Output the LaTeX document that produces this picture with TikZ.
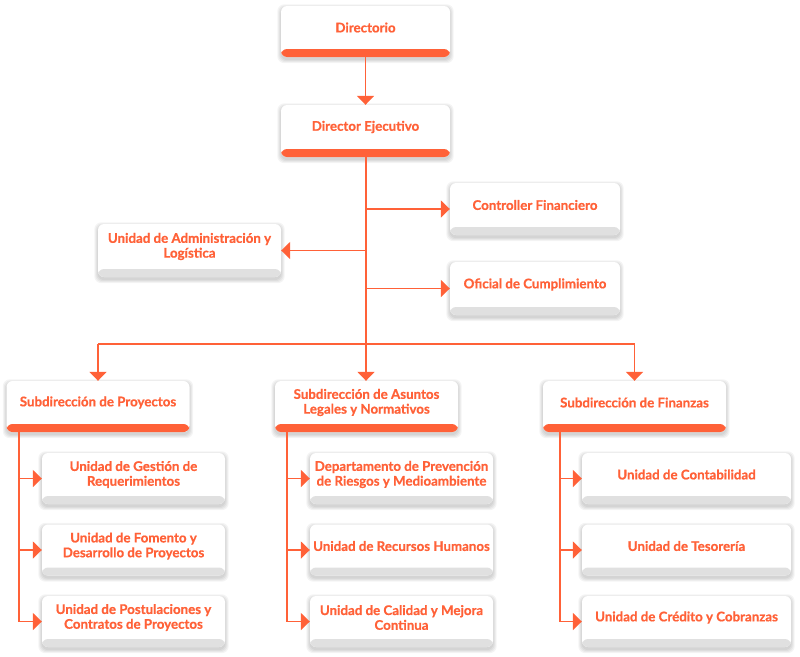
\documentclass[tikz,border=0pt]{standalone}
\usepackage{fontspec}
\setmainfont{Lato}[BoldFeatures={FakeBold=0.7}]
\usetikzlibrary{arrows.meta,calc}
\pgfdeclarelayer{bg}
\pgfsetlayers{bg,main}
\definecolor{org}{HTML}{FF6138}
\definecolor{band}{HTML}{E0E0E0}
\tikzset{
  basebox/.style={rectangle, rounded corners=6pt, fill=white, inner sep=0pt},
  hdr/.style={basebox, path picture={\fill[org] (path picture bounding box.south west) rectangle ([yshift=8pt]path picture bounding box.south east);}},
  sub/.style={basebox, path picture={\fill[band] (path picture bounding box.south west) rectangle ([yshift=8pt]path picture bounding box.south east);}},
  txt/.style={text=org, font=\bfseries\fontsize{13.3}{14.8}\selectfont, align=center, inner sep=0pt},
  shd/.style={fill=black, opacity=0.045, rounded corners=7pt},
  con/.style={draw=org, line width=1.6pt},
  arr/.style={con, -{Triangle[width=17pt,length=9pt]}},
}
\newcommand\obox[7]{%
  \node[#2, minimum width=#5pt, minimum height=#6pt] (#1) at (#3,#4) {};
  \node[txt] (#1t) at ([yshift=4pt]#1.center) {#7};
  \begin{pgfonlayer}{bg}
    \foreach \k in {0.5,1.5,2.5,3.5}{
      \fill[shd] ([xshift=-\k pt, yshift=\k pt-2pt]#1.north west) rectangle ([xshift=\k pt, yshift=-\k pt-2.5pt]#1.south east);
    }
  \end{pgfonlayer}
}
\begin{document}
\begin{tikzpicture}[x=1pt,y=-1pt]
\begin{pgfonlayer}{bg}
\fill[white] (0,0) rectangle (800,656);
\end{pgfonlayer}
\useasboundingbox (0,0) rectangle (800,656);
% boxes
\obox{dir}{hdr}{365.5}{31.5}{169}{51}{Directorio}
\obox{de}{hdr}{365.5}{131}{169}{52}{Director Ejecutivo}
\obox{cf}{sub}{535}{209}{170}{52}{Controller Financiero}
\obox{ua}{sub}{189.5}{250.5}{183}{53}{Unidad de Administración y\\Logística}
\obox{oc}{sub}{535}{288.5}{170}{53}{Oficial de Cumplimiento}
\obox{sp}{hdr}{98}{406.5}{183}{51}{Subdirección de Proyectos}
\obox{sa}{hdr}{366.5}{406.5}{183}{51}{Subdirección de Asuntos\\Legales y Normativos}
\obox{sf}{hdr}{634.5}{406.5}{183}{51}{Subdirección de Finanzas}
\obox{p1}{sub}{133.5}{478.5}{183}{51}{Unidad de Gestión de\\Requerimientos}
\obox{p2}{sub}{133.5}{550}{183}{51}{Unidad de Fomento y\\Desarrollo de Proyectos}
\obox{p3}{sub}{133.5}{621.5}{183}{51}{Unidad de Postulaciones y\\Contratos de Proyectos}
\obox{a1}{sub}{401.5}{478.5}{183}{51}{Departamento de Prevención\\de Riesgos y Medioambiente}
\obox{a2}{sub}{401.5}{550}{183}{51}{Unidad de Recursos Humanos}
\obox{a3}{sub}{401.5}{621.5}{183}{51}{Unidad de Calidad y Mejora\\Continua}
\obox{f1}{sub}{686.5}{478.5}{209}{51}{Unidad de Contabilidad}
\obox{f2}{sub}{686.5}{550}{209}{51}{Unidad de Tesorería}
\obox{f3}{sub}{686.5}{621.5}{209}{51}{Unidad de Crédito y Cobranzas}
% junctions
\coordinate (jm) at (366,344);
\coordinate (jl) at (98,344);
\coordinate (jr) at (634.5,344);
% connectors
\draw[arr] (dir.south) -- (de.north);
\draw[con] (de.south -| jm) -- (jm);
\draw[arr] (cf.west -| jm) -- (cf.west);
\draw[arr] (ua.east -| jm) -- (ua.east);
\draw[arr] (oc.west -| jm) -- (oc.west);
\draw[con] (jl) -- (jr);
\draw[arr] (jl) -- (sp.north);
\draw[arr] (jm) -- (sa.north -| jm);
\draw[arr] (jr) -- (sf.north);
% branches
\coordinate (bp) at (19,432);
\coordinate (ba) at (287,432);
\coordinate (bf) at (560,432);
\draw[con] (bp) -- (bp |- p3.west);
\draw[con] (ba) -- (ba |- a3.west);
\draw[con] (bf) -- (bf |- f3.west);
\foreach \c in {p1,p2,p3} \draw[arr] (bp |- \c.west) -- (\c.west);
\foreach \c in {a1,a2,a3} \draw[arr] (ba |- \c.west) -- (\c.west);
\foreach \c in {f1,f2,f3} \draw[arr] (bf |- \c.west) -- (\c.west);
\end{tikzpicture}
\end{document}
